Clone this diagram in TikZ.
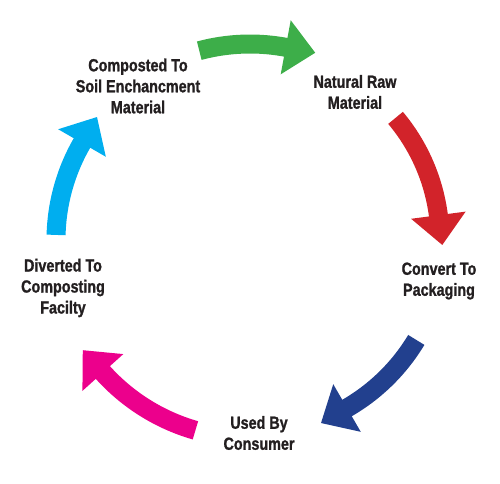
\documentclass[tikz,border=0pt]{standalone}
\usepackage{fontspec}
\setmainfont{Liberation Sans}[FakeStretch=0.82, BoldFeatures={FakeBold=1.2}]
\usetikzlibrary{calc}
\definecolor{cgreen}{HTML}{3DAE49}
\definecolor{cred}{HTML}{D2232A}
\definecolor{cblue}{HTML}{22408E}
\definecolor{cpink}{HTML}{EC008C}
\definecolor{ccyan}{HTML}{00AEEF}
\definecolor{ctext}{HTML}{231F20}
\tikzset{
  lbl/.style={align=center, text=ctext, font=\fontsize{17.5}{21}\selectfont\bfseries, inner sep=0pt},
}
\begin{document}
\begin{tikzpicture}[x=1pt,y=1pt]
\useasboundingbox (0,0) rectangle (500,483);
\coordinate (c) at (250,243);
\node[lbl] (compost) at (138,397) {Composted To\\Soil Enchancment\\Material};
\node[lbl] (raw) at (355,391) {Natural Raw\\Material};
\node[lbl] (pack) at (439,202) {Convert To\\Packaging};
\node[lbl] (used) at (259,50) {Used By\\Consumer};
\node[lbl] (divert) at (63,195) {Diverted To\\Composting\\Facilty};
\foreach \ta/\tb/\r/\col in {105/79.5/196/cgreen, 40/7.5/190/cred, -31/-60/194/cblue, 254/222/198/cpink, 178.5/150/194/ccyan}{
  \draw[line width=19pt,\col] ($(c)+({\ta}:{\r})$) arc[start angle=\ta, end angle={\tb-1}, radius=\r pt];
  \fill[\col] ($(c)+({\tb}:{\r+27.5})$) -- ($(c)+({\tb}:{\r-27.5})$) -- ($(c)+({\tb}:{\r})+({\tb-90}:30)$) -- cycle;
}
\end{tikzpicture}
\end{document}
